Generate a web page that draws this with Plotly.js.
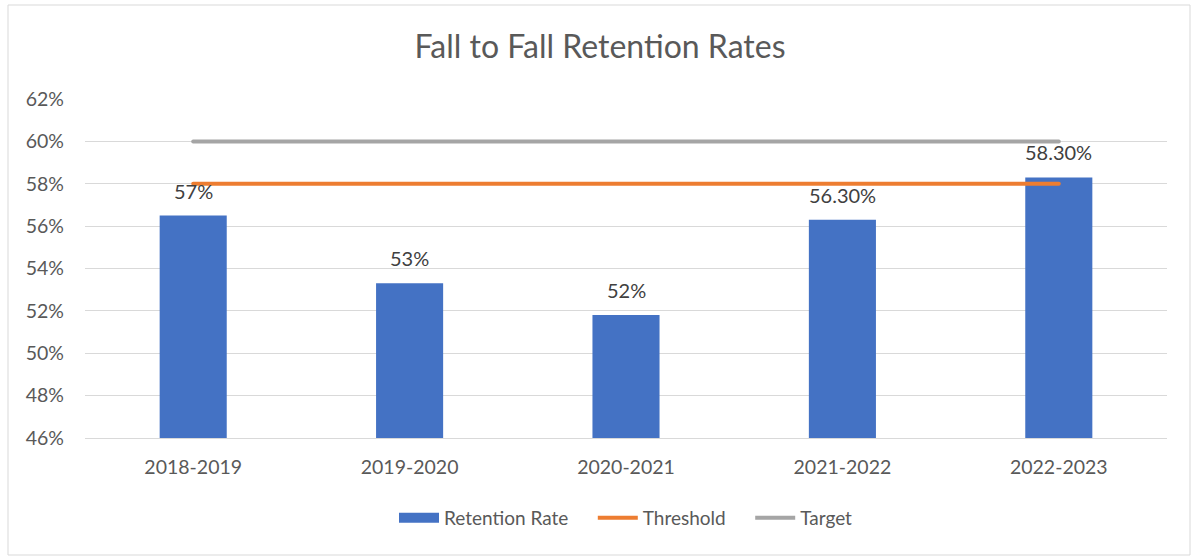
<!DOCTYPE html>
<html>
<head>
<meta charset="utf-8">
<script src="https://cdn.plot.ly/plotly-3.0.1.min.js"></script>
<style>
  html, body { margin: 0; padding: 0; background: #fff; }
  #chart { width: 1200px; height: 560px; }
  .scatterlayer path.js-line { stroke-linecap: round; }
</style>
</head>
<body>
<div id="chart"></div>
<script>
const categories = ["2018-2019", "2019-2020", "2020-2021", "2021-2022", "2022-2023"];
const retentionRate = [56.5, 53.3, 51.8, 56.3, 58.3];
const retentionLabels = ["57%", "53%", "52%", "56.30%", "58.30%"];
const threshold = [58, 58, 58, 58, 58];
const target = [60, 60, 60, 60, 60];
const yTickVals = [46, 48, 50, 52, 54, 56, 58, 60, 62];
const yTickText = ["46%", "48%", "50%", "52%", "54%", "56%", "58%", "60%", "62%"];

const font = "Lato, 'Open Sans', 'Liberation Sans', sans-serif";
const BLUE = "#4472C4";
const pad = "\u00a0\u00a0\u00a0\u00a0";

const traces = [
  {
    type: "bar",
    name: "Retention Rate",
    x: categories,
    y: retentionRate,
    marker: { color: BLUE },
    width: 0.31,
    showlegend: false,
    hoverinfo: "x+y"
  },
  {
    type: "scatter",
    mode: "lines",
    name: "Retention Rate" + pad,
    x: [null],
    y: [null],
    line: { color: BLUE, width: 12 },
    showlegend: true
  },
  {
    type: "scatter",
    mode: "lines",
    name: "Threshold" + pad,
    x: categories,
    y: threshold,
    line: { color: "#ED7D31", width: 4 }
  },
  {
    type: "scatter",
    mode: "lines",
    name: "Target",
    x: categories,
    y: target,
    line: { color: "#A5A5A5", width: 4 }
  }
];

const labelAnnotations = categories.map((c, i) => ({
  x: c,
  y: retentionRate[i],
  xref: "x",
  yref: "y",
  text: retentionLabels[i],
  showarrow: false,
  yanchor: "bottom",
  xanchor: "center",
  yshift: 11,
  font: { family: font, size: 20, color: "#404040" }
}));

const layout = {
  width: 1200,
  height: 560,
  margin: { l: 85, r: 33, t: 99, b: 122 },
  paper_bgcolor: "#ffffff",
  plot_bgcolor: "#ffffff",
  font: { family: font, color: "#595959", size: 19 },
  title: {
    text: "Fall to Fall Retention Rates",
    font: { family: font, size: 32, color: "#595959" },
    x: 0.5, xanchor: "center",
    y: 1 - 47 / 560, yanchor: "middle"
  },
  bargap: 0.69,
  showlegend: true,
  legend: {
    orientation: "h",
    x: 0.5, xanchor: "center",
    y: -80 / 339, yanchor: "middle",
    font: { size: 19, color: "#595959", family: font },
    itemwidth: 40,
    traceorder: "normal"
  },
  xaxis: {
    type: "category",
    showgrid: false,
    showline: true,
    linecolor: "#d9d9d9",
    linewidth: 1,
    ticks: "",
    ticklabelstandoff: 12,
    tickfont: { size: 19.5, color: "#595959", family: font },
    zeroline: false
  },
  yaxis: {
    range: [46, 62],
    tickvals: yTickVals,
    ticktext: yTickText,
    showgrid: true,
    gridcolor: "#d9d9d9",
    gridwidth: 1,
    showline: false,
    zeroline: false,
    ticks: "",
    ticklabelstandoff: 20,
    tickfont: { size: 19.5, color: "#595959", family: font }
  },
  annotations: labelAnnotations,
  shapes: [
    {
      type: "rect", xref: "paper", yref: "paper",
      x0: -77 / 1082, x1: 1 + 23 / 1082,
      y0: -117 / 339, y1: 1 + 94 / 339,
      line: { color: "#d9d9d9", width: 1 },
      fillcolor: "rgba(0,0,0,0)",
      layer: "below"
    }
  ]
};

Plotly.newPlot("chart", traces, layout, { displayModeBar: false, staticPlot: true });
</script>
</body>
</html>
